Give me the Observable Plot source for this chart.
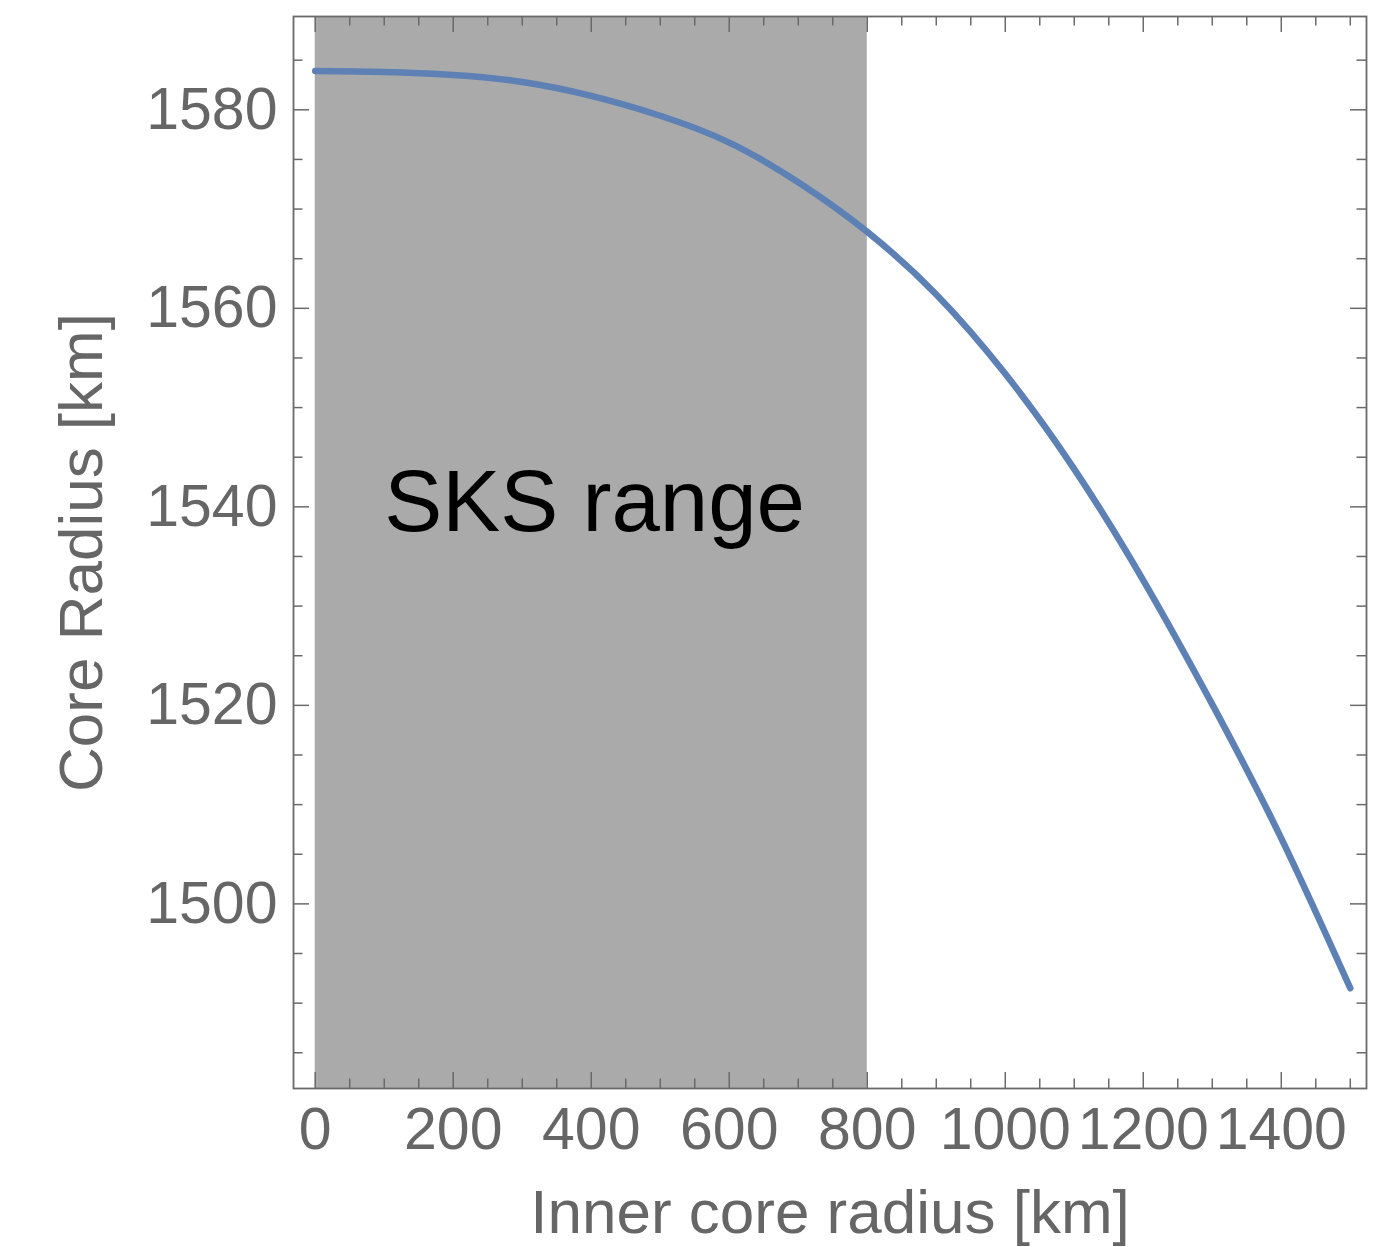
<!DOCTYPE html>
<html>
<head>
<meta charset="utf-8">
<script src="https://cdn.jsdelivr.net/npm/d3@7"></script>
<script src="https://cdn.jsdelivr.net/npm/@observablehq/plot@0.6"></script>
<style>
  body { margin: 0; background: #fff; }
</style>
</head>
<body>
<div id="chart"></div>
<script>
// ---- data ----
const innerCoreRadius = [0, 100, 200, 300, 400, 500, 600, 700, 800, 900, 1000, 1100, 1200, 1300, 1400, 1500];
const coreRadius = [1583.9, 1583.8, 1583.5, 1582.8, 1581.4, 1579.4, 1576.7, 1572.7, 1567.7, 1561.4, 1553.4, 1543.8, 1532.6, 1520.1, 1506.6, 1491.5];

const xMajorTicks = [0, 200, 400, 600, 800, 1000, 1200, 1400];
const xMinorTicks = [50, 100, 150, 250, 300, 350, 450, 500, 550, 650, 700, 750, 850, 900, 950, 1050, 1100, 1150, 1250, 1300, 1350, 1450, 1500];
const yMajorTicks = [1500, 1520, 1540, 1560, 1580];
const yMinorTicks = [1485, 1490, 1495, 1505, 1510, 1515, 1525, 1530, 1535, 1545, 1550, 1555, 1565, 1570, 1575, 1585];

const shadeFrom = [0];
const shadeTo = [800];
const annotationText = ["SKS range"];
const annotationX = [100];
const annotationY = [1537.6];

// ---- build tables ----
const curve = innerCoreRadius.map((r, i) => ({r, R: coreRadius[i]}));
const shade = shadeFrom.map((a, i) => ({x1: a, x2: shadeTo[i]}));
const notes = annotationText.map((t, i) => ({t, x: annotationX[i], y: annotationY[i]}));

const W = 1384, H = 1247;
const mL = 293, mR = 18, mT = 16, mB = 159;
const fw = W - mL - mR, fh = H - mT - mB;
const axisColor = "#6a6a6a";
const major = 16, minor = 9.5;

const chart = Plot.plot({
  width: W,
  height: H,
  marginLeft: mL,
  marginRight: mR,
  marginTop: mT,
  marginBottom: mB,
  style: {fontFamily: "'Liberation Sans', Arial, Helvetica, sans-serif", color: "#666", background: "#fff"},
  x: {domain: [-31.5, 1523.5]},
  y: {domain: [1481.4, 1589.4]},
  marks: [
    Plot.rect(shade, {x1: "x1", x2: "x2", fill: "#aaaaaa"}),
    Plot.line(curve, {x: "r", y: "R", stroke: "#5e81b5", strokeWidth: 6.5, curve: "natural"}),
    // bottom & top ticks
    Plot.tickX(xMajorTicks, {x: d => d, insetTop: fh - major, stroke: axisColor, strokeWidth: 1.5}),
    Plot.tickX(xMinorTicks, {x: d => d, insetTop: fh - minor, stroke: axisColor, strokeWidth: 1.5}),
    Plot.tickX(xMajorTicks, {x: d => d, insetBottom: fh - major, stroke: axisColor, strokeWidth: 1.5}),
    Plot.tickX(xMinorTicks, {x: d => d, insetBottom: fh - minor, stroke: axisColor, strokeWidth: 1.5}),
    // left & right ticks
    Plot.tickY(yMajorTicks, {y: d => d, insetRight: fw - major, stroke: axisColor, strokeWidth: 1.5}),
    Plot.tickY(yMinorTicks, {y: d => d, insetRight: fw - minor, stroke: axisColor, strokeWidth: 1.5}),
    Plot.tickY(yMajorTicks, {y: d => d, insetLeft: fw - major, stroke: axisColor, strokeWidth: 1.5}),
    Plot.tickY(yMinorTicks, {y: d => d, insetLeft: fw - minor, stroke: axisColor, strokeWidth: 1.5}),
    Plot.frame({stroke: axisColor, strokeWidth: 1.8}),
    Plot.axisX({ticks: xMajorTicks, tickSize: 0, tickPadding: 19, fontSize: 59, tickFormat: d => String(d),
      label: null}),
    Plot.axisX({ticks: [], tickSize: 0, fontSize: 62,
      label: "Inner core radius [km]", labelAnchor: "center", labelOffset: 144, labelArrow: "none"}),
    Plot.axisY({ticks: yMajorTicks, tickSize: 0, tickPadding: 16, fontSize: 59, tickFormat: d => String(d),
      label: null}),
    Plot.axisY({ticks: [], tickSize: 0, fontSize: 62,
      label: "Core Radius [km]", labelAnchor: "center", labelOffset: 236, labelArrow: "none"}),
    Plot.text(notes, {x: "x", y: "y", text: "t", textAnchor: "start", lineAnchor: "bottom", fontSize: 87, fill: "#000"})
  ]
});
document.getElementById("chart").appendChild(chart);
</script>
</body>
</html>
